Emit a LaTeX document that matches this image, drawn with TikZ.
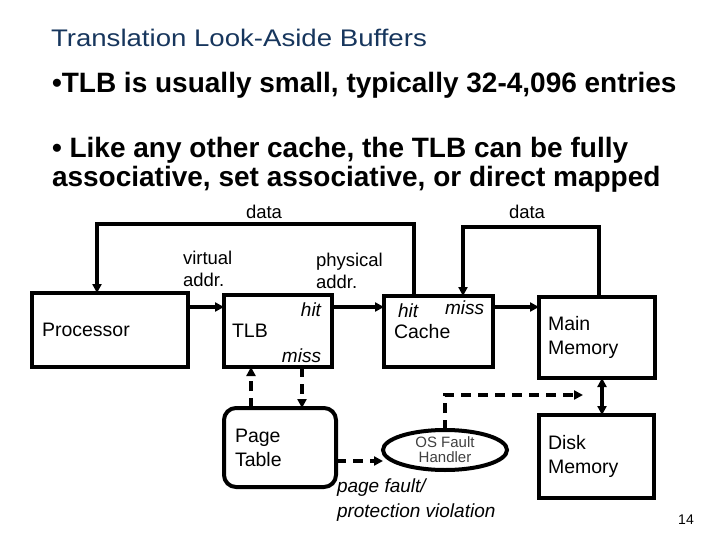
\documentclass[tikz,border=0pt]{standalone}
\usepackage{fontspec}
\setmainfont{Liberation Sans}
\newfontfamily\titlefont[FakeStretch=1.15]{Liberation Sans}
\usetikzlibrary{positioning,calc}
\usetikzlibrary{arrows.meta}
\usetikzlibrary{shapes.geometric}
\definecolor{titleblue}{RGB}{23,54,93}

\begin{document}
\begin{tikzpicture}[x=1pt, y=-1pt, >={Triangle[length=9pt,width=9pt]}, line width=4pt,
  blk/.style={draw, rectangle, anchor=north west, outer sep=0pt, align=left, inner xsep=10pt, font=\fontsize{19.5}{24}\selectfont},
  lbl/.style={font=\fontsize{18.5}{22}\selectfont, align=left, inner sep=0pt},
  itl/.style={font=\fontsize{19}{25}\selectfont\itshape, align=left, inner sep=0pt},
  dsh/.style={dash pattern=on 10pt off 7pt}]
\useasboundingbox (0,0) rectangle (720,540);
% heading and bullets
\node[anchor=base west, inner sep=0pt, text=titleblue, font=\titlefont\fontsize{24}{28}\selectfont] (title) at (49,47) {Translation Look-Aside Buffers};
\node[anchor=base west, inner sep=0pt, font=\bfseries\fontsize{28}{29}\selectfont] (bulA) at (50,93) {\textbullet TLB is usually small, typically 32-4,096 entries};
\node[anchor=base west, inner sep=0pt, font=\bfseries\fontsize{28}{29}\selectfont] (bulB) at (50,158) {\textbullet{} Like any other cache, the TLB can be fully};
\node[anchor=base west, inner sep=0pt, font=\bfseries\fontsize{28}{29}\selectfont] (bulC) at (50,187) {associative, set associative, or direct mapped};
% blocks
\node[blk, minimum width=156, minimum height=74, text width=136] (proc) at (32,293) {Processor};
\node[blk, minimum width=108, minimum height=72, text width=92, inner xsep=8pt] (tlb) at (224,295) {TLB};
\node[blk, minimum width=109, minimum height=71, text width=89] (cache) at (384,296) {Cache};
\node[blk, minimum width=116, minimum height=81, text width=98, inner xsep=9pt] (mainmem) at (539,297) {Main\\Memory};
\node[blk, minimum width=115, minimum height=83, text width=97, inner xsep=9pt] (disk) at (539,415) {Disk\\Memory};
\node[blk, rounded corners=12pt, minimum width=112, minimum height=79, text width=90, inner xsep=11pt] (ptab) at (224,408) {Page\\Table};
\node[draw, ellipse, outer sep=0pt, inner sep=0pt, minimum width=124, minimum height=40, align=center, text=black!75, font=\fontsize{15}{15}\selectfont] (osf) at (445,450) {OS Fault\\Handler};
% labels
\node[lbl] (dataA) at (264,212) {data};
\node[lbl] (dataB) at (527,212) {data};
\node[lbl, anchor=west] (vaddr) at (181,269) {virtual\\addr.};
\node[lbl, anchor=west] (paddr) at (314,271) {physical\\addr.};
\node[itl, anchor=east] (tlbhit) at (323,310) {hit};
\node[itl, anchor=east] (tlbmiss) at (323,356) {miss};
\node[itl, anchor=west] (cachehit) at (396,311) {hit};
\node[itl, anchor=west] (cachemiss) at (443,308) {miss};
\node[itl, anchor=west] (fault) at (335,500) {page fault/\\protection violation};
\node[inner sep=0pt, font=\fontsize{14}{16}\selectfont] (pagenum) at (686,520) {14};
% connectors
\draw[->] (proc.east |- 0,307) -- (tlb.west |- 0,307);
\draw[->] (tlb.east |- 0,307) -- (cache.west |- 0,307);
\draw[->] (cache.east |- 0,307) -- (mainmem.west |- 0,307);
\draw[->] (cache.north -| 414,0) |- (97,224) -- (proc.north -| 97,0);
\draw[->] (mainmem.north -| 599,0) |- (463,227) -- (cache.north -| 463,0);
\draw[<->] (mainmem.south -| 602,0) -- (disk.north -| 602,0);
\draw[->, dsh] (ptab.north -| 251,0) -- (tlb.south -| 251,0);
\draw[->, dsh] (tlb.south -| 302,0) -- (ptab.north -| 302,0);
\draw[->, dsh] (ptab.east |- 0,461) -- (osf.west |- 0,461);
\coordinate (flt) at (583,395);
\draw[->, dsh] (osf.north) |- (flt);
\end{tikzpicture}
\end{document}
